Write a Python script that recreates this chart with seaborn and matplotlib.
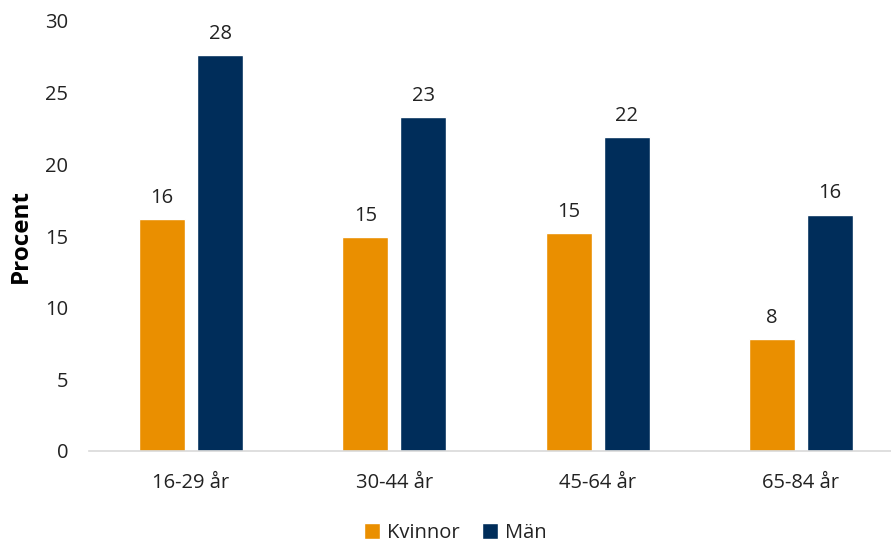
import matplotlib
matplotlib.use("Agg")
import matplotlib.pyplot as plt
import seaborn as sns
import pandas as pd
from matplotlib.patches import Patch

age_groups = ["16-29 år", "30-44 år", "45-64 år", "65-84 år"]
kvinnor = [16.2, 14.9, 15.2, 7.8]
man = [27.6, 23.3, 21.9, 16.5]
series = ["Kvinnor", "Män"]
colors = ["#EA8F00", "#002D5A"]

df = pd.DataFrame({
    "Ålder": age_groups * 2,
    "Procent": kvinnor + man,
    "Kön": [series[0]] * len(age_groups) + [series[1]] * len(age_groups),
})

sns.set_theme(style="white")
plt.rcParams["font.family"] = ["Open Sans", "DejaVu Sans"]

FS = 14.5
TXT = "#222222"
W, H = 891, 544
fig = plt.figure(figsize=(W / 100, H / 100), dpi=100)
ax = fig.add_axes([89 / W, (H - 451) / H, (891 - 89) / W, 430 / H])

sns.barplot(data=df, x="Ålder", y="Procent", hue="Kön", palette=colors,
            width=0.571, gap=0.208, saturation=1, ax=ax, legend=False)

for cont in ax.containers:
    ax.bar_label(cont, fmt="%.0f", padding=8, fontsize=FS, color=TXT)

ax.set_ylim(0, 30)
ax.set_yticks(range(0, 31, 5))
ax.set_xlim(-0.502, 3.443)
ax.set_xlabel("")
ax.set_ylabel("")
fig.text(21 / W, 1 - 236 / H, "Procent", rotation=90, ha="center", va="center",
         fontsize=17.5, fontweight="bold", color="#000000")
ax.tick_params(axis="y", length=0, pad=15, labelsize=FS, labelcolor=TXT)
ax.tick_params(axis="x", length=0, pad=16, labelsize=FS, labelcolor=TXT)
for s in ["left", "right", "top"]:
    ax.spines[s].set_visible(False)
ax.spines["bottom"].set_color("#D9D9D9")
ax.spines["bottom"].set_linewidth(1.2)

handles = [Patch(facecolor=c, label=l) for c, l in zip(colors, series)]
fig.legend(handles=handles, loc="center", bbox_to_anchor=(455 / W, 1 - 533 / H),
           ncol=2, frameon=False, fontsize=FS, handlelength=0.8, handleheight=0.8,
           handletextpad=0.35, columnspacing=1.1, labelcolor=TXT)

fig.savefig("out.png", dpi=100)
